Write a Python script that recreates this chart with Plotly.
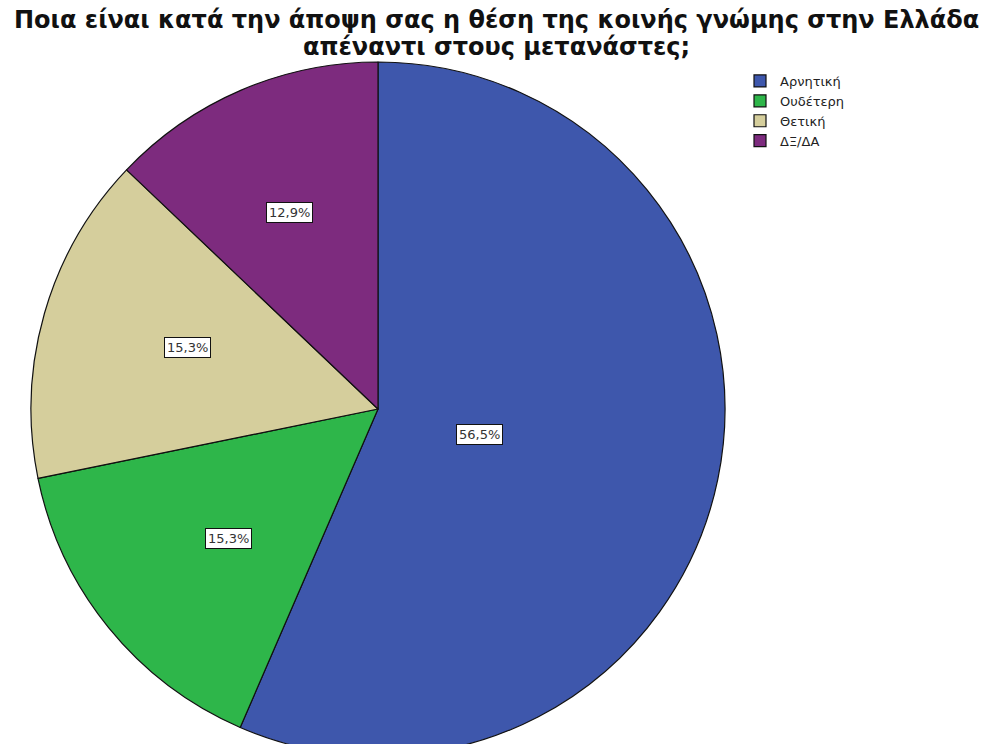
import math
import plotly.graph_objects as go

categories = ["Αρνητική", "Ουδέτερη", "Θετική", "ΔΞ/ΔΑ"]
values = [56.5, 15.3, 15.3, 12.9]
value_labels = ["56,5%", "15,3%", "15,3%", "12,9%"]
colors = ["#3E57AC", "#2EB64A", "#D5CE9C", "#7D2B7E"]
title_lines = ["Ποια είναι κατά την άποψη σας η θέση της κοινής γνώμης στην Ελλάδα",
               "απέναντι στους μετανάστες;"]

W, H = 993, 756
L, T, S = 31, 62, 694

fig = go.Figure(go.Pie(
    labels=categories, values=values, sort=False, direction="clockwise", rotation=0,
    marker=dict(colors=colors, line=dict(color="#111111", width=1.2)),
    textinfo="none", hoverinfo="label+percent",
))

def py(p):
    return 1 + (T - p) / S

annotations = []
total = sum(values)
cum = 0.0
for v, lab in zip(values, value_labels):
    frac = v / total
    alpha = frac * 2 * math.pi
    mid = (cum + frac / 2) * 2 * math.pi
    d = 4 * math.sin(alpha / 2) / (3 * alpha)  # centroid distance as fraction of radius
    annotations.append(dict(
        x=0.5 + 0.5 * d * math.sin(mid), y=0.5 + 0.5 * d * math.cos(mid),
        xref="paper", yref="paper", text=lab, showarrow=False,
        font=dict(family="DejaVu Sans", size=13, color="#333333"),
        bgcolor="white", bordercolor="#111111", borderwidth=1, borderpad=2,
    ))
    cum += frac

for line, p in zip(title_lines, [20, 47]):
    annotations.append(dict(
        x=(496 - L) / S, y=py(p), xref="paper", yref="paper", text="<b>" + line + "</b>",
        showarrow=False, xanchor="center", yanchor="middle",
        font=dict(family="DejaVu Sans", size=24, color="#111111"),
    ))

fig.update_layout(
    width=W, height=H,
    margin=dict(l=L, r=W - L - S, t=T, b=H - T - S),
    paper_bgcolor="white", plot_bgcolor="white",
    showlegend=True,
    legend=dict(x=(740 - L) / S, y=py(66), xanchor="left", yanchor="top",
                font=dict(family="DejaVu Sans", size=13, color="#222222"),
                itemwidth=30, tracegroupgap=0, bgcolor="rgba(0,0,0,0)"),
    annotations=annotations,
)

fig.write_html("out.html", config={"displayModeBar": False}, post_script=(
    "document.documentElement.style.overflow='hidden';"
    "document.body.style.overflow='hidden';document.body.style.margin='0';"
))
